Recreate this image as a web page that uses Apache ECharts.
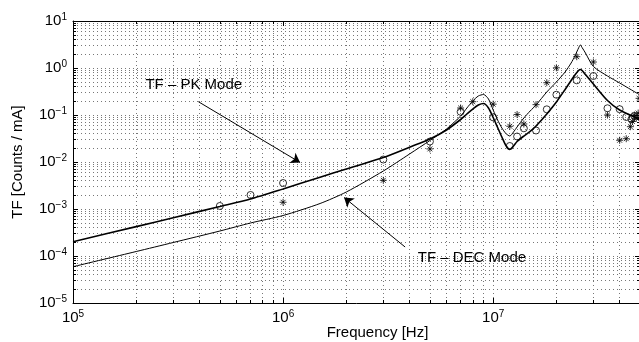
<!DOCTYPE html>
<html><head><meta charset="utf-8">
<script src="https://cdn.jsdelivr.net/npm/echarts@6/dist/echarts.min.js"></script>
<style>html,body{margin:0;padding:0;background:#fff}#c{width:639px;height:342px}</style>
</head><body><div id="c"></div>
<script>
// ---- data ----
const curveFreq = [1e5,2e5,3e5,5e5,7e5,1e6,1.5e6,2e6,3e6,4e6,5e6,6e6,7e6,7.5e6,8e6,8.5e6,9e6,9.5e6,1e7,1.05e7,1.1e7,1.15e7,1.2e7,1.25e7,1.3e7,1.4e7,1.5e7,1.6e7,1.8e7,2e7,2.2e7,2.35e7,2.45e7,2.55e7,2.6e7,2.65e7,2.75e7,3e7,3.5e7,4e7,5e7];
const pkCurve = [2.015e-4,4.22e-4,6.53e-4,1.13e-3,1.632e-3,2.664e-3,4.75e-3,7.1e-3,1.246e-2,2.065e-2,3.087e-2,4.8e-2,8.02e-2,0.105,0.134,0.163,0.1757,0.141,0.0885,0.0542,0.034,0.02245,0.01845,0.0219,0.0273,0.0357,0.0446,0.0583,0.105,0.189,0.349,0.542,0.71,0.885,0.929,0.885,0.727,0.457,0.2035,0.128,0.0822];
const decCurve = [5.92e-5,1.246e-4,1.937e-4,3.4e-4,5.04e-4,7.27e-4,1.309e-3,2.3e-3,6.43e-3,1.48e-2,2.867e-2,5.04e-2,9.52e-2,0.141,0.1986,0.2537,0.273,0.219,0.128,0.0783,0.0529,0.0404,0.0357,0.0435,0.0556,0.0863,0.1217,0.163,0.3087,0.504,0.822,1.277,1.8,2.665,3.086,2.73,2.085,1.076,0.676,0.48,0.2665];
const pkMeasFreq = [5e5,7e5,1e6,3e6,5e6,7e6,1e7,1.2e7,1.3e7,1.4e7,1.6e7,1.8e7,2e7,2.5e7,3e7,3.5e7,4e7,4.3e7,4.55e7,4.7e7];
const pkMeas = [1.16e-3,1.99e-3,3.57e-3,1.13e-2,0.0273,0.117,0.089,0.0219,0.0349,0.0521,0.0468,0.132,0.27,0.547,0.676,0.139,0.133,0.0906,0.0815,0.0953];
const decMeasFreq = [1e6,3e6,5e6,7e6,8e6,1e7,1.2e7,1.3e7,1.4e7,1.6e7,1.8e7,2e7,2.5e7,3e7,3.5e7,4e7,4.3e7,4.5e7,4.6e7,4.7e7,4.8e7,4.9e7,4.95e7];
const decMeas = [1.39e-3,4.08e-3,0.019,0.141,0.192,0.17,0.0576,0.1026,0.0644,0.166,0.486,1.01,1.74,1.34,0.1,0.029,0.0313,0.0564,0.0728,0.1,0.085,0.11,0.226];
const xMinor = [2e5,3e5,4e5,5e5,6e5,7e5,8e5,9e5,2e6,3e6,4e6,5e6,6e6,7e6,8e6,9e6,2e7,3e7,4e7];
const yMinor = [2e-5,3e-5,4e-5,5e-5,6e-5,7e-5,8e-5,9e-5,2e-4,3e-4,4e-4,5e-4,6e-4,7e-4,8e-4,9e-4,2e-3,3e-3,4e-3,5e-3,6e-3,7e-3,8e-3,9e-3,2e-2,3e-2,4e-2,5e-2,6e-2,7e-2,8e-2,9e-2,0.2,0.3,0.4,0.5,0.6,0.7,0.8,0.9,2,3,4,5,6,7,8,9];
const xTickExp = [5,6,7];
const yTickExp = [-5,-4,-3,-2,-1,0,1];
const pkLabel = 'TF – PK Mode';
const decLabel = 'TF – DEC Mode';
const pkArrow = [[3.95e5,0.192],[1.205e6,9.76e-3]];
const decArrow = [[3.81e6,1.554e-4],[1.952e6,1.758e-3]];
const pkLabelAt = [2.2e5,0.435];
const decLabelAt = [4.35e6,9.05e-5];

const FONT = "'Liberation Sans', Arial, Helvetica, sans-serif";
function zip(a,b){return a.map((v,i)=>[v,b[i]]);}
function powLabel(exps){
  return function(v){
    const l = Math.log10(v), e = Math.round(l);
    if (Math.abs(l-e) > 1e-6 || exps.indexOf(e) < 0) return '';
    return '{b|10}{e|' + (e<0 ? '\u2212' + (-e) : e) + '}';
  };
}
const rich = {
  b:{fontSize:15,fontFamily:FONT,color:'#000',lineHeight:18},
  e:{fontSize:10,fontFamily:FONT,color:'#000',verticalAlign:'top',lineHeight:10}
};
const gridStyle = {color:'#777',type:[1,3],width:1};
const X = {type:'log',logBase:10,min:1e5,max:5e7};
const Y = {type:'log',logBase:10,min:1e-5,max:10};

const chart = echarts.init(document.getElementById('c'),null,{renderer:'canvas'});
chart.setOption({
  animation:false,
  grid:{left:73,top:21,width:567,height:282,containLabel:false,outerBoundsMode:'none'},
  xAxis:[
    Object.assign({},X,{position:'bottom',
      axisLine:{show:true,lineStyle:{color:'#000',width:1}},
      axisTick:{show:true,inside:true,length:5,lineStyle:{color:'#000'}},
      axisLabel:{show:true,margin:6,formatter:powLabel(xTickExp),rich:rich,showMaxLabel:false},
      splitLine:{show:true,lineStyle:gridStyle},
      name:'Frequency [Hz]',nameLocation:'middle',nameGap:22,nameMoveOverlap:false,
      nameTextStyle:{fontSize:15,fontFamily:FONT,color:'#000',padding:[0,0,0,42]}}),
    Object.assign({},X,{position:'top',
      axisLine:{show:true,lineStyle:{color:'#000',width:1}},
      axisTick:{show:true,inside:true,length:5,lineStyle:{color:'#000'}},
      axisLabel:{show:false},splitLine:{show:false}}),
    Object.assign({},X,{position:'bottom',axisLine:{show:false},
      axisTick:{show:true,inside:true,length:3,customValues:xMinor,lineStyle:{color:'#000'}},
      axisLabel:{show:false},splitLine:{show:true,lineStyle:gridStyle}}),
    Object.assign({},X,{position:'top',axisLine:{show:false},
      axisTick:{show:true,inside:true,length:3,customValues:xMinor,lineStyle:{color:'#000'}},
      axisLabel:{show:false},splitLine:{show:false}})
  ],
  yAxis:[
    Object.assign({},Y,{position:'left',
      axisLine:{show:true,lineStyle:{color:'#000',width:1}},
      axisTick:{show:true,inside:true,length:5,lineStyle:{color:'#000'}},
      axisLabel:{show:true,margin:6,formatter:powLabel(yTickExp),rich:rich},
      splitLine:{show:true,lineStyle:gridStyle},
      name:'TF [Counts / mA]',nameLocation:'middle',nameGap:48,nameRotate:90,nameMoveOverlap:false,
      nameTextStyle:{fontSize:15,fontFamily:FONT,color:'#000'}}),
    Object.assign({},Y,{position:'right',
      axisLine:{show:true,lineStyle:{color:'#000',width:1}},
      axisTick:{show:true,inside:true,length:5,lineStyle:{color:'#000'}},
      axisLabel:{show:false},splitLine:{show:false}}),
    Object.assign({},Y,{position:'left',axisLine:{show:false},
      axisTick:{show:true,inside:true,length:3,customValues:yMinor,lineStyle:{color:'#000'}},
      axisLabel:{show:false},splitLine:{show:true,lineStyle:gridStyle}}),
    Object.assign({},Y,{position:'right',axisLine:{show:false},
      axisTick:{show:true,inside:true,length:3,customValues:yMinor,lineStyle:{color:'#000'}},
      axisLabel:{show:false},splitLine:{show:false}})
  ],
  series:[
    {type:'line',name:'PK',z:3,data:zip(curveFreq,pkCurve),symbol:'none',smooth:0.25,
      lineStyle:{color:'#000',width:1.6},clip:true},
    {type:'line',name:'DEC',z:3,data:zip(curveFreq,decCurve),symbol:'none',smooth:0.25,
      lineStyle:{color:'#000',width:1},clip:true},
    {type:'scatter',name:'PK meas',z:4,data:zip(pkMeasFreq,pkMeas),symbol:'circle',symbolSize:7,
      itemStyle:{color:'rgba(255,255,255,0)',borderColor:'#000',borderWidth:1}},
    {type:'scatter',name:'DEC meas',z:4,data:zip(decMeasFreq,decMeas),
      symbol:'path://M5 0L5 10M0 5L10 5M1.5 1.5L8.5 8.5M1.5 8.5L8.5 1.5',symbolSize:7,
      itemStyle:{color:'rgba(255,255,255,0)',borderColor:'#000',borderWidth:1}},
    {type:'line',name:'annot',z:5,data:[],symbol:'none',
      markLine:{silent:true,symbol:['none','arrow'],symbolSize:9,label:{show:false},
        lineStyle:{color:'#000',width:1,type:'solid'},
        data:[[{coord:pkArrow[0]},{coord:pkArrow[1]}],[{coord:decArrow[0]},{coord:decArrow[1]}]]},
      markPoint:{silent:true,symbol:'circle',symbolSize:1,itemStyle:{color:'rgba(0,0,0,0)'},
        label:{show:true,position:'right',distance:0,color:'#000',fontSize:15,fontFamily:FONT},
        data:[{coord:pkLabelAt,value:pkLabel,label:{formatter:pkLabel}},
              {coord:decLabelAt,value:decLabel,label:{formatter:decLabel}}]}}
  ]
});
</script></body></html>
